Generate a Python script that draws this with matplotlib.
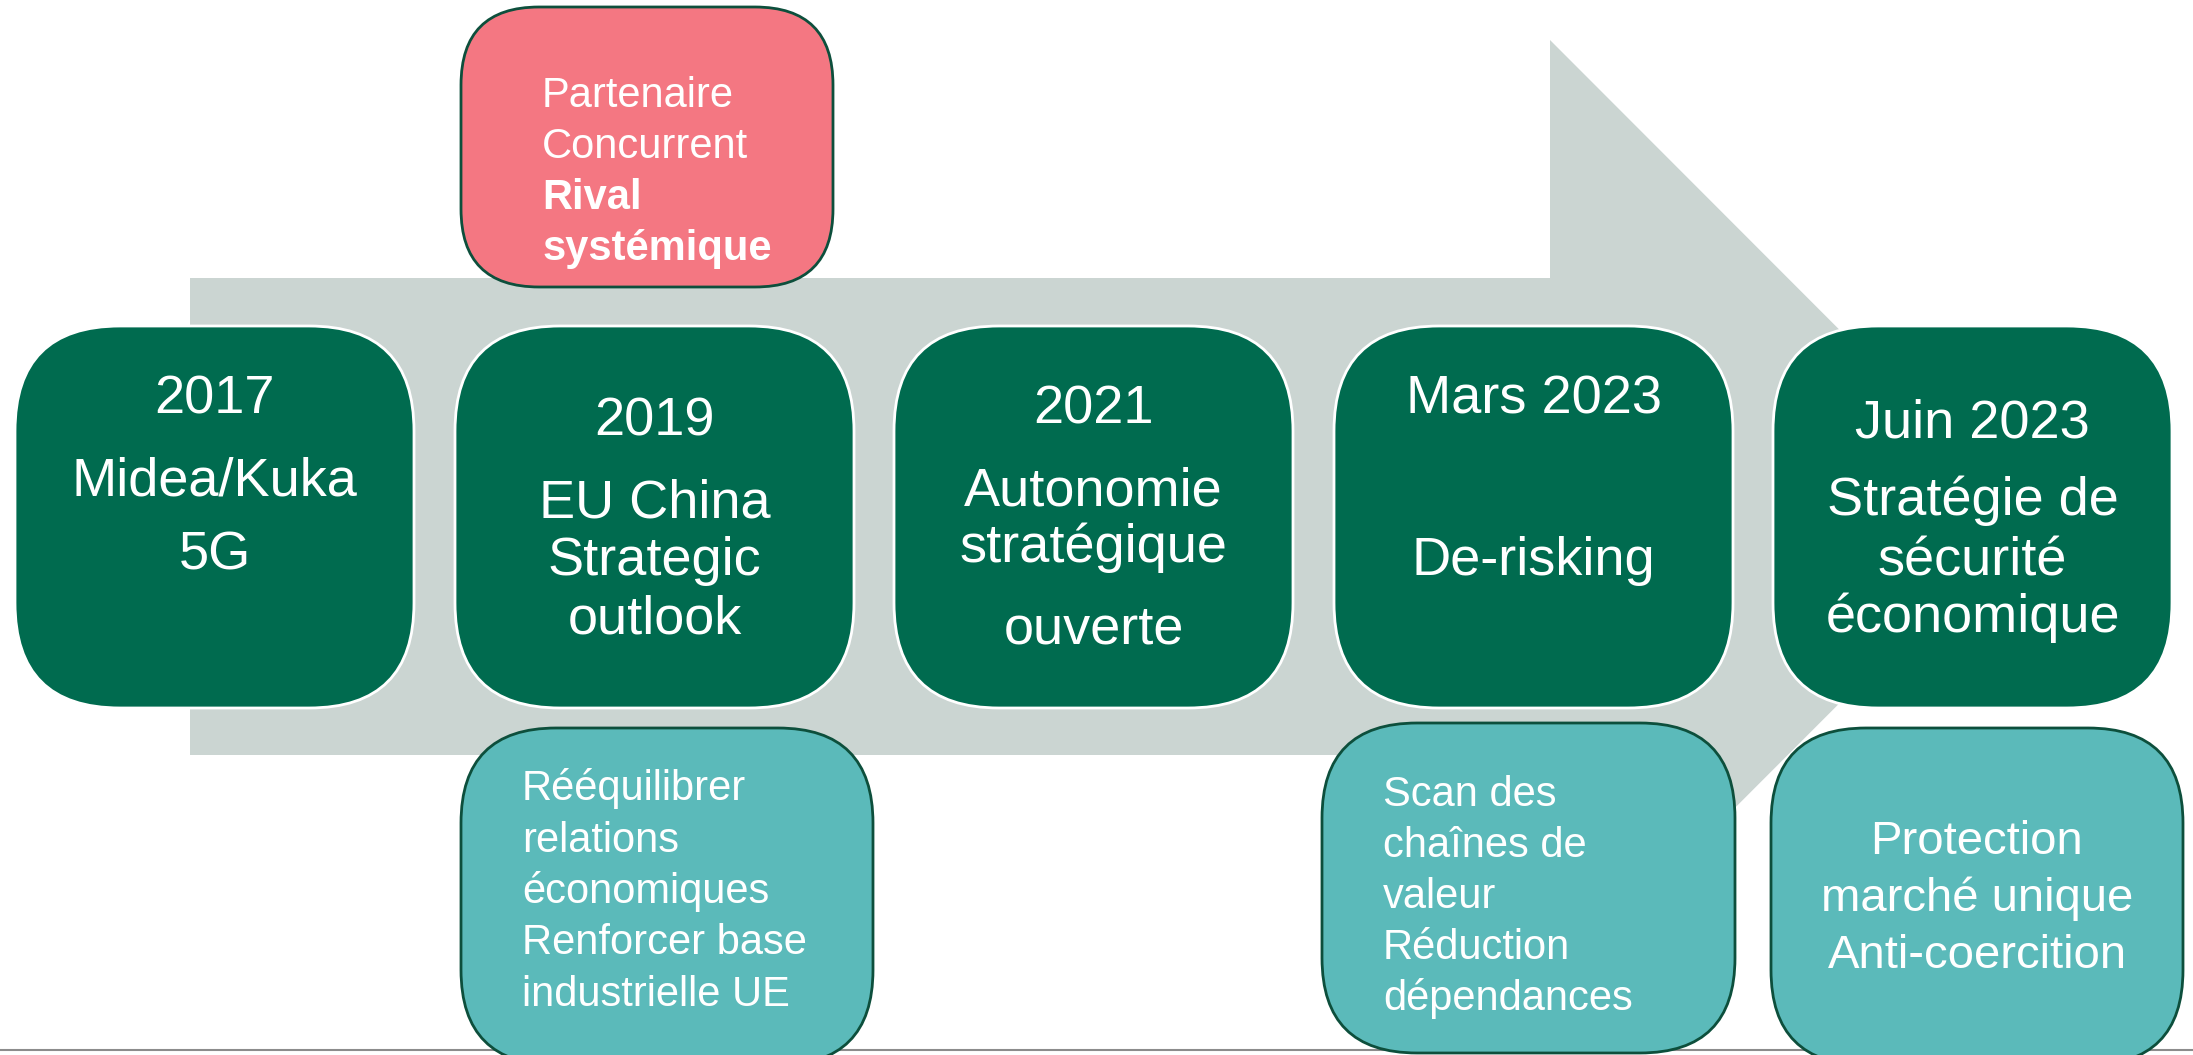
import matplotlib
matplotlib.use("Agg")
import matplotlib.pyplot as plt
from matplotlib.patches import FancyBboxPatch, Polygon

plt.rcParams["font.family"] = ["Liberation Sans", "DejaVu Sans"]

# contenu de la frise
dates = ["2017", "2019", "2021", "Mars 2023", "Juin 2023"]
titres = [
    ["Midea/Kuka", "5G"],
    ["EU China", "Strategic", "outlook"],
    ["Autonomie", "stratégique", "ouverte"],
    ["De-risking"],
    ["Stratégie de", "sécurité", "économique"],
]
posture_ue = ["Partenaire", "Concurrent", "Rival", "systémique"]
posture_gras = [False, False, True, True]
objectifs_2019 = ["Rééquilibrer", "relations", "économiques",
                  "Renforcer base", "industrielle UE"]
objectifs_mars = ["Scan des", "chaînes de", "valeur",
                  "Réduction", "dépendances"]
objectifs_juin = ["Protection", "marché unique", "Anti-coercition"]

# couleurs
VERT = "#006b4f"
GRIS = "#cbd5d2"
TURQ = "#5bbaba"
ROSE = "#f47782"
BORD = "#0d4f3c"

W, H = 2193, 1055
fig = plt.figure(figsize=(W / 100, H / 100), dpi=100)
ax = fig.add_axes([0, 0, 1, 1])
ax.set_xlim(0, W)
ax.set_ylim(H, 0)
ax.axis("off")

# ligne grise en bas
ax.plot([0, W], [1050, 1050], color="#8c8c8c", lw=1.5, zorder=0)

# grande flèche en fond
fleche = Polygon([(190, 278), (1550, 278), (1550, 40), (2026, 516.5),
                  (1550, 993), (1550, 755), (190, 755)],
                 closed=True, facecolor=GRIS, edgecolor="none", zorder=1)
ax.add_patch(fleche)


def boite(x0, y0, x1, y1, fc, ec, lw, r):
    p = FancyBboxPatch((x0, y0), x1 - x0, y1 - y0,
                       boxstyle=f"round,pad=0,rounding_size={r}",
                       facecolor=fc, edgecolor=ec, linewidth=lw, zorder=2)
    ax.add_patch(p)


# boîtes principales
gauches = [15, 455, 894, 1334, 1773]
larg = 399
bases_date = [413, 435, 424, 414, 437]
bases_titre = [[495, 570], [517, 575, 633], [505, 562, 643], [575],
               [515, 575, 632]]
for i, d in enumerate(dates):
    x0 = gauches[i]
    boite(x0, 326, x0 + larg, 708, VERT, "white", 2, 105)
    cx = x0 + larg / 2
    ax.text(cx, bases_date[i], d, color="white", fontsize=39,
            ha="center", va="baseline", zorder=3)
    for t, yb in zip(titres[i], bases_titre[i]):
        ax.text(cx, yb, t, color="white", fontsize=39,
                ha="center", va="baseline", zorder=3)

# boîte rose (posture)
boite(461, 7, 833, 287, ROSE, BORD, 2, 78)
for k, (t, g) in enumerate(zip(posture_ue, posture_gras)):
    ax.text(542, 107 + k * 51, t, color="white", fontsize=30,
            fontweight="bold" if g else "normal",
            ha="left", va="baseline", zorder=3)

# boîtes turquoise
boite(461, 728, 873, 1065, TURQ, BORD, 2, 95)
for k, t in enumerate(objectifs_2019):
    ax.text(522, 800 + k * 51.5, t, color="white", fontsize=30,
            ha="left", va="baseline", zorder=3)

boite(1322, 723, 1735, 1053, TURQ, BORD, 2, 95)
for k, t in enumerate(objectifs_mars):
    ax.text(1383, 806 + k * 51, t, color="white", fontsize=30,
            ha="left", va="baseline", zorder=3)

boite(1771, 728, 2183, 1065, TURQ, BORD, 2, 95)
for k, t in enumerate(objectifs_juin):
    ax.text(1977, 854 + k * 57, t, color="white", fontsize=34,
            ha="center", va="baseline", zorder=3)

fig.savefig("out.png", dpi=100, facecolor="white")
